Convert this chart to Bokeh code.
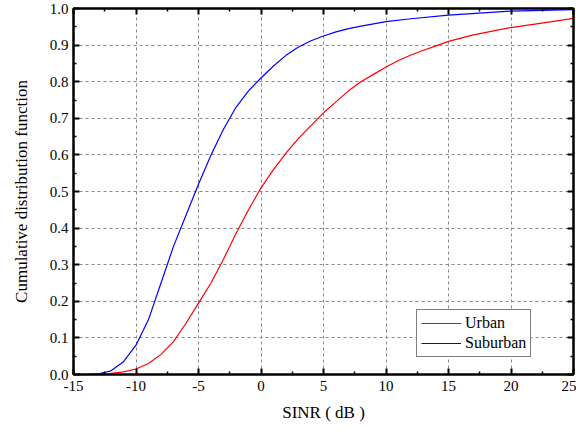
from bokeh.plotting import figure
from bokeh.models import LinearAxis, FixedTicker, Legend, LegendItem, Range1d, CustomJSTickFormatter
from bokeh.embed import file_html
from bokeh.resources import INLINE

# Data
urban_x = [-15, -14, -13, -12, -11, -10, -9, -8, -7, -6, -5, -4, -3, -2, -1, 0, 1, 2, 3, 4, 5, 6, 7, 8, 9, 10,
           11, 12, 13, 14, 15, 17, 20, 23, 25]
urban_y = [0.0, 0.0, 0.001, 0.003, 0.007, 0.015, 0.03, 0.055, 0.09, 0.14, 0.195, 0.25, 0.315, 0.385, 0.45, 0.51,
           0.56, 0.605, 0.645, 0.68, 0.715, 0.745, 0.775, 0.8, 0.82, 0.84, 0.858, 0.873, 0.886, 0.898, 0.91,
           0.928, 0.948, 0.963, 0.973]
suburban_x = [-15, -14, -13, -12, -11, -10, -9, -8, -7, -6, -5, -4, -3, -2, -1, 0, 1, 2, 3, 4, 5, 6, 7, 8, 9, 10,
              12, 15, 20, 25]
suburban_y = [0.0, 0.0, 0.002, 0.01, 0.035, 0.08, 0.15, 0.25, 0.35, 0.435, 0.52, 0.6, 0.67, 0.73, 0.775, 0.81,
              0.843, 0.872, 0.895, 0.912, 0.925, 0.936, 0.945, 0.952, 0.958, 0.964, 0.972, 0.982, 0.993, 0.997]
x_ticks = [-15, -10, -5, 0, 5, 10, 15, 20, 25]
x_labels = ["-15", "-10", "-5", "0", "5", "10", "15", "20", "25"]
y_ticks = [0.0, 0.1, 0.2, 0.3, 0.4, 0.5, 0.6, 0.7, 0.8, 0.9, 1.0]
y_labels = ["0.0", "0.1", "0.2", "0.3", "0.4", "0.5", "0.6", "0.7", "0.8", "0.9", "1.0"]
series_names = ["Urban", "Suburban"]

FONT = "Liberation Serif"

p = figure(width=576, height=432, output_backend="svg", toolbar_location=None,
           x_range=Range1d(-15, 25), y_range=Range1d(0, 1.0),
           min_border_left=73, min_border_right=3, min_border_top=8, min_border_bottom=58,
           x_axis_label="SINR ( dB )", y_axis_label="Cumulative distribution function")
p.background_fill_color = "white"
p.border_fill_color = "white"
p.outline_line_color = "black"
p.outline_line_width = 2

r1 = p.line(urban_x, urban_y, line_color="#ff0000", line_width=1.2)
r2 = p.line(suburban_x, suburban_y, line_color="#0000ff", line_width=1.2)

for ax in (p.xaxis[0], p.yaxis[0]):
    ax.axis_line_width = 2
    ax.major_tick_in = 6
    ax.major_tick_out = 0
    ax.minor_tick_in = 3
    ax.minor_tick_out = 0
    ax.major_tick_line_width = 2
    ax.minor_tick_line_width = 1.5
    ax.major_label_text_font = FONT
    ax.major_label_text_font_size = "15px"
    ax.major_label_text_color = "black"
    ax.axis_label_text_font = FONT
    ax.axis_label_text_font_size = "17px"
    ax.axis_label_text_font_style = "normal"
    ax.axis_label_text_color = "black"

p.xaxis[0].ticker = FixedTicker(ticks=x_ticks, minor_ticks=[v + 2.5 for v in x_ticks[:-1]])
p.yaxis[0].ticker = FixedTicker(ticks=y_ticks, minor_ticks=[v + 0.05 for v in y_ticks[:-1]])
p.xaxis[0].major_label_overrides = {t: l for t, l in zip(x_ticks, x_labels)}
p.yaxis[0].major_label_overrides = {t: l for t, l in zip(y_ticks, y_labels)}
p.xaxis[0].major_label_standoff = 6
p.xaxis[0].axis_label_standoff = 9
p.yaxis[0].major_label_standoff = 5
p.yaxis[0].axis_label_standoff = 16

# mirrored axes on top and right (ticks only)
top = LinearAxis(ticker=FixedTicker(ticks=x_ticks, minor_ticks=[v + 2.5 for v in x_ticks[:-1]]))
right = LinearAxis(ticker=FixedTicker(ticks=y_ticks, minor_ticks=[v + 0.05 for v in y_ticks[:-1]]))
for ax in (top, right):
    ax.axis_line_width = 2
    ax.major_tick_in = 6
    ax.major_tick_out = 0
    ax.minor_tick_in = 3
    ax.minor_tick_out = 0
    ax.major_tick_line_width = 2
    ax.minor_tick_line_width = 1.5
    ax.formatter = CustomJSTickFormatter(code="return ''")
    ax.major_label_standoff = 0
p.add_layout(top, "above")
p.add_layout(right, "right")

p.xgrid.ticker = FixedTicker(ticks=x_ticks)
p.ygrid.ticker = FixedTicker(ticks=y_ticks)
for g in (p.xgrid[0], p.ygrid[0]):
    g.grid_line_color = "#888888"
    g.grid_line_dash = "3 3"
    g.grid_line_width = 1

legend = Legend(items=[LegendItem(label=series_names[0], renderers=[r1]),
                       LegendItem(label=series_names[1], renderers=[r2])],
                location=(343, 17))
legend.border_line_color = "black"
legend.border_line_width = 1.5
legend.label_text_font = FONT
legend.label_text_font_size = "16px"
legend.label_text_color = "black"
legend.glyph_width = 40
legend.glyph_height = 16
legend.label_height = 16
legend.spacing = 2
legend.padding = 4
legend.margin = 0
legend.label_standoff = 4
legend.background_fill_alpha = 1
p.add_layout(legend)

open("out.html", "w").write(file_html(p, INLINE))
